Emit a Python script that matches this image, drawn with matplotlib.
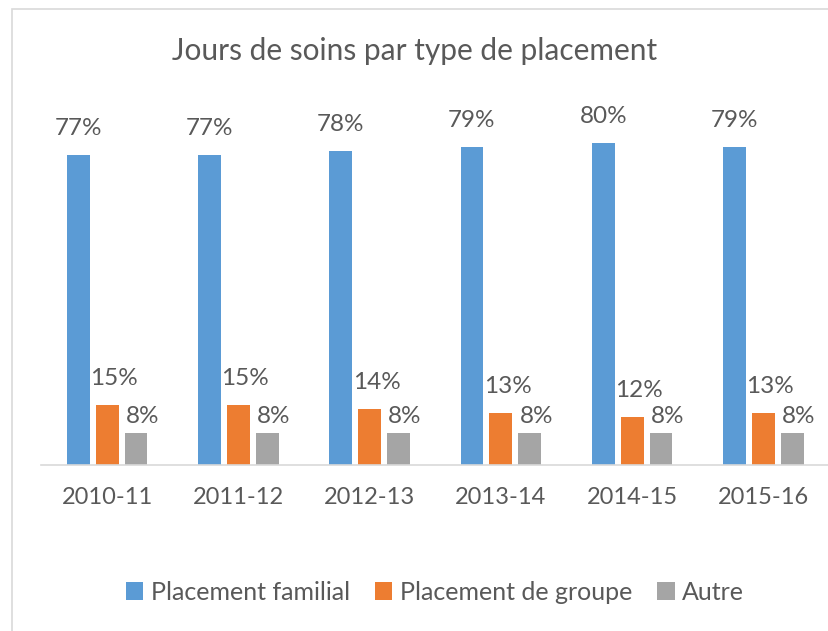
import matplotlib.pyplot as plt
import numpy as np
from matplotlib.patches import Rectangle

plt.rcParams['font.family'] = ['Lato', 'DejaVu Sans']

# données
annees = ['2010-11', '2011-12', '2012-13', '2013-14', '2014-15', '2015-16']
familial = [77, 77, 78, 79, 80, 79]
groupe = [15, 15, 14, 13, 12, 13]
autre = [8, 8, 8, 8, 8, 8]
series = ['Placement familial', 'Placement de groupe', 'Autre']
couleurs = ['#5B9BD5', '#ED7D31', '#A5A5A5']

gris_txt = '#595959'

fig = plt.figure(figsize=(8.29, 6.31), dpi=100)
W, H = 829, 631

# cadre du graphique (style Excel)
fig.add_artist(Rectangle((12.5 / W, -0.1), 1.2, (H - 9) / H + 0.1,
                         transform=fig.transFigure, fill=False,
                         edgecolor='#D9D9D9', linewidth=1.2))

ax = fig.add_axes([41.5 / W, (H - 465) / H, (W - 41.5) / W, 362.7 / H])

x = np.arange(len(annees))
larg = 0.175
pas = 0.22
# décalage des étiquettes (points) : horizontal, vertical
decal_x = [0, 5, 4.7]
decal_y = [19, 19, 12]

for k, (vals, nom, c) in enumerate(zip([familial, groupe, autre], series, couleurs)):
    pos = x + (k - 1) * pas
    barres = ax.bar(pos, vals, width=larg, color=c, label=nom)
    for p, v in zip(pos, vals):
        ax.annotate(f'{v}%', (p, v), xytext=(decal_x[k], decal_y[k]),
                    textcoords='offset points', ha='center', va='center',
                    fontsize=17.5, color=gris_txt)

ax.set_xlim(-0.5, len(annees) - 0.5)
ax.set_ylim(0, 90)
ax.set_xticks(x)
ax.set_xticklabels(annees, fontsize=17, color=gris_txt)
ax.tick_params(axis='x', length=0, pad=16)
ax.set_yticks([])
for s in ['top', 'right', 'left']:
    ax.spines[s].set_visible(False)
ax.spines['bottom'].set_color('#D9D9D9')
ax.spines['bottom'].set_linewidth(1.2)

fig.text(0.5, 1 - 51 / H, 'Jours de soins par type de placement',
         ha='center', va='center', fontsize=21.5, color=gris_txt)

fig.legend(loc='center', bbox_to_anchor=(435 / W, 1 - 592 / H), ncol=3,
           frameon=False, fontsize=18, handlelength=0.7, handleheight=0.7,
           handletextpad=0.3, columnspacing=1.0, labelcolor=gris_txt)

fig.savefig('out.png', dpi=100)
